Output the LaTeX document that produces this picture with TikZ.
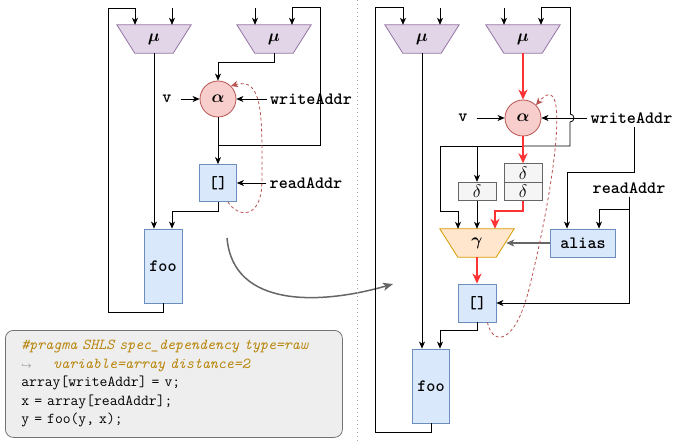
\RequirePackage{fix-cm}
\documentclass[tikz,border=0pt]{standalone}
\usepackage{amsmath}
\usepackage{fontspec}
\usetikzlibrary{arrows.meta,calc}
\definecolor{muF}{HTML}{E1D5E7}\definecolor{muD}{HTML}{9673A6}
\definecolor{alF}{HTML}{F8CECC}\definecolor{alD}{HTML}{B85450}
\definecolor{blF}{HTML}{DAE8FC}\definecolor{blD}{HTML}{6C8EBF}
\definecolor{dlF}{HTML}{F5F5F5}\definecolor{dlD}{HTML}{666666}
\definecolor{gaF}{HTML}{FFE6CC}\definecolor{gaD}{HTML}{D79B00}
\definecolor{redc}{HTML}{FF3333}
\definecolor{codeC}{HTML}{B8860B}
\definecolor{codeF}{HTML}{EEEEEE}
\pgfdeclarelayer{bg}\pgfsetlayers{bg,main}
\newcommand\mytrap[3]{\begin{pgfonlayer}{bg}\filldraw[fill=#2,draw=#3,line width=0.8pt] (#1.north west) -- (#1.north east) -- ($(#1.south east)+(-18,0)$) -- ($(#1.south west)+(18,0)$) -- cycle;\end{pgfonlayer}}
\tikzset{
  trapnode/.style={minimum width=74pt,minimum height=28pt,inner sep=0pt,font=\fontsize{17}{20}\selectfont},
  alphanode/.style={circle,draw=alD,fill=alF,line width=0.8pt,minimum size=36pt,inner sep=0pt,font=\fontsize{17}{20}\selectfont},
  bluebox/.style={draw=blD,fill=blF,line width=0.8pt,inner sep=0pt,font=\ttfamily\bfseries\fontsize{17.3}{20}\selectfont},
  deltabox/.style={draw=dlD,fill=dlF,line width=0.8pt,inner sep=0pt,minimum width=38pt,minimum height=18.5pt,font=\fontsize{18}{20}\selectfont},
  lbl/.style={inner sep=3pt,font=\ttfamily\bfseries\fontsize{17.3}{20}\selectfont},
  arr/.style={line width=0.8pt,-{Stealth[length=7pt,width=6pt,inset=2pt]}},
  ln/.style={line width=0.8pt},
  redarr/.style={draw=redc,line width=2pt,-{Stealth[length=10pt,width=9pt,inset=3pt]}},
  grayarr/.style={draw=black!60,line width=1.3pt,-{Stealth[length=8pt,width=7pt,inset=2pt]}},
  bigarr/.style={draw=black!60,line width=1.5pt,-{Stealth[length=10pt,width=8pt,inset=2.5pt]}},
  dcurve/.style={draw=alD,line width=0.8pt,dash pattern=on 3pt off 2.5pt,-{Stealth[length=7pt,width=6.5pt,inset=2pt]}},
  codebox/.style={draw=black!55,fill=codeF,line width=0.8pt,rounded corners=8pt,minimum width=337pt,minimum height=107pt,text width=305pt,inner xsep=16pt,align=left,font=\ttfamily\fontsize{15.2}{18.5}\selectfont}
}
\begin{document}
\begin{tikzpicture}[x=1pt,y=-1pt]
\useasboundingbox (0,0) rectangle (673,441);
% ---------------- left diagram ----------------
\node[trapnode] (mu1) at (154,39) {$\boldsymbol{\mu}$}; \mytrap{mu1}{muF}{muD}
\node[trapnode] (mu2) at (274,39) {$\boldsymbol{\mu}$}; \mytrap{mu2}{muF}{muD}
\node[alphanode] (al1) at (218,99) {$\boldsymbol{\alpha}$};
\node[lbl] (v1) at (167,99) {v};
\node[lbl,fill=white] (wa1) at (311,99) {writeAddr};
\node[bluebox,minimum width=37pt,minimum height=37pt] (ar1) at (218,183) {[]};
\node[lbl] (ra1) at (306,183) {readAddr};
\node[bluebox,minimum width=38pt,minimum height=74pt] (foo1) at (163,266) {foo};
\coordinate (fbL1) at (108,8);
\coordinate (fbR1) at (320,7);
\coordinate (j1) at (218,145);
\draw[arr] ($(mu1.north)+(18,-17)$) -- ($(mu1.north)+(18,0)$);
\draw[arr] ($(mu2.north)+(-19,-17)$) -- ($(mu2.north)+(-19,0)$);
\draw[arr] (mu2.south) -- ++(0,9) -| (al1.north);
\draw[arr] (mu1.south) -- (mu1.south |- foo1.north);
\draw[arr] (foo1.south) -- ++(0,9) -| (fbL1) -| ($(mu1.north)+(-19,0)$);
\draw[arr] (al1.south) -- (ar1.north);
\draw[arr] (j1) -| (fbR1) -| ($(mu2.north)+(18,0)$);
\draw[arr] ($(v1.east)+(6,0)$) -- (al1.west);
\draw[arr] (wa1.west) -- (al1.east);
\draw[arr] (ra1.west) -- (ar1.east);
\draw[arr] (ar1.south) -- ++(0,10) -| ($(foo1.north)+(9,0)$);
\draw[dcurve] ($(ar1.south east)+(-9,0)$) .. controls (238,218) and (262,220) .. (262,180) .. controls (262,120) and (264,76) .. (al1.45);
% big arrow
\coordinate (cs) at (227,238);
\coordinate (ce) at (393,284);
\draw[bigarr] (cs) .. controls (233,308) and (320,305) .. (ce);
% separator
\coordinate (sepT) at (357,0);
\coordinate (sepB) at (357,441);
\draw[black!35,line width=1pt,dash pattern=on 1pt off 3pt] (sepT) -- (sepB);
% code
\node[codebox,anchor=north west] (code) at (5,330) {%
{\color{codeC}\itshape \#pragma SHLS spec\_dependency type=raw}\\
\makebox[31.9pt][l]{\color{black!55}\fontsize{9}{9}\selectfont$\hookrightarrow$}{\color{codeC}\itshape variable=array distance=2}\\
array[writeAddr] = v;\\
x = array[readAddr];\\
y = foo(y, x);};
% ---------------- right diagram ----------------
\node[trapnode] (mu3) at (422,39) {$\boldsymbol{\mu}$}; \mytrap{mu3}{muF}{muD}
\node[trapnode] (mu4) at (523,39) {$\boldsymbol{\mu}$}; \mytrap{mu4}{muF}{muD}
\node[alphanode] (al2) at (523,118) {$\boldsymbol{\alpha}$};
\node[lbl] (v2) at (463,118) {v};
\node[lbl] (wa2) at (631.5,118) {writeAddr};
\node[deltabox] (d2a) at (523,173) {$\delta$};
\node[deltabox] (d2b) at (523,191.5) {$\delta$};
\node[deltabox] (d1) at (477,191.5) {$\delta$};
\node[trapnode] (gam) at (477,243) {$\boldsymbol{\gamma}$}; \mytrap{gam}{gaF}{gaD}
\node[bluebox,minimum width=65pt,minimum height=28pt] (alias) at (583,243) {alias};
\node[lbl] (ra2) at (629,188) {readAddr};
\node[bluebox,minimum width=38pt,minimum height=38pt] (ar2) at (477,303) {[]};
\node[bluebox,minimum width=37pt,minimum height=74pt] (foo2) at (431,386) {foo};
\coordinate (fbL2) at (375,7);
\coordinate (fbR2) at (570,7);
\coordinate (j2) at (523,146);
\coordinate (k2) at (440,211);
\coordinate (hopA) at (570,122);
\draw[arr] ($(mu3.north)+(18,-17)$) -- ($(mu3.north)+(18,0)$);
\draw[arr] ($(mu4.north)+(-19,-17)$) -- ($(mu4.north)+(-19,0)$);
\draw[arr] (mu3.south) -- (mu3.south |- foo2.north);
\draw[arr] (foo2.south) -- ++(0,9) -| (fbL2) -| ($(mu3.north)+(-19,0)$);
\draw[ln] (j2) -| (hopA) arc (90:-90:4);
\draw[arr] ($(hopA)+(0,-8)$) |- (fbR2) -| ($(mu4.north)+(18,0)$);
\draw[arr] (j2) -| (d1.north);
\draw[arr] (j2) -| (k2) -| ($(gam.north)+(-19,0)$);
\draw[redarr] (mu4.south) -- (al2.north);
\draw[redarr] (al2.south) -- (d2a.north);
\draw[arr] (d1.south) -- (gam.north);
\draw[redarr] (d2b.south) -- ++(0,10) -| ($(gam.north)+(18,0)$);
\draw[redarr] (gam.south) -- (ar2.north);
\draw[grayarr] (alias.west) -- ($(gam.east)+(-8,0)$);
\draw[arr] ($(v2.east)+(6,0)$) -- (al2.west);
\draw[arr] (wa2.west) -- (al2.east);
\draw[arr] (wa2.south -| 634,0) |- ($(alias.north)+(-16,-56)$) -- ($(alias.north)+(-16,0)$);
\draw[arr] (ra2.south) |- ($(alias.north)+(16,-19)$) -- ($(alias.north)+(16,0)$);
\draw[arr] (ra2.south) |- (ar2.east);
\draw[arr] (ar2.south) -- ++(0,8) -| ($(foo2.north)+(9,0)$);
\draw[dcurve] ($(ar2.south east)+(-9,0)$) .. controls (493,347) and (516,345) .. (530,285) .. controls (550,205) and (574,62) .. (al2.45);
\end{tikzpicture}
\end{document}
